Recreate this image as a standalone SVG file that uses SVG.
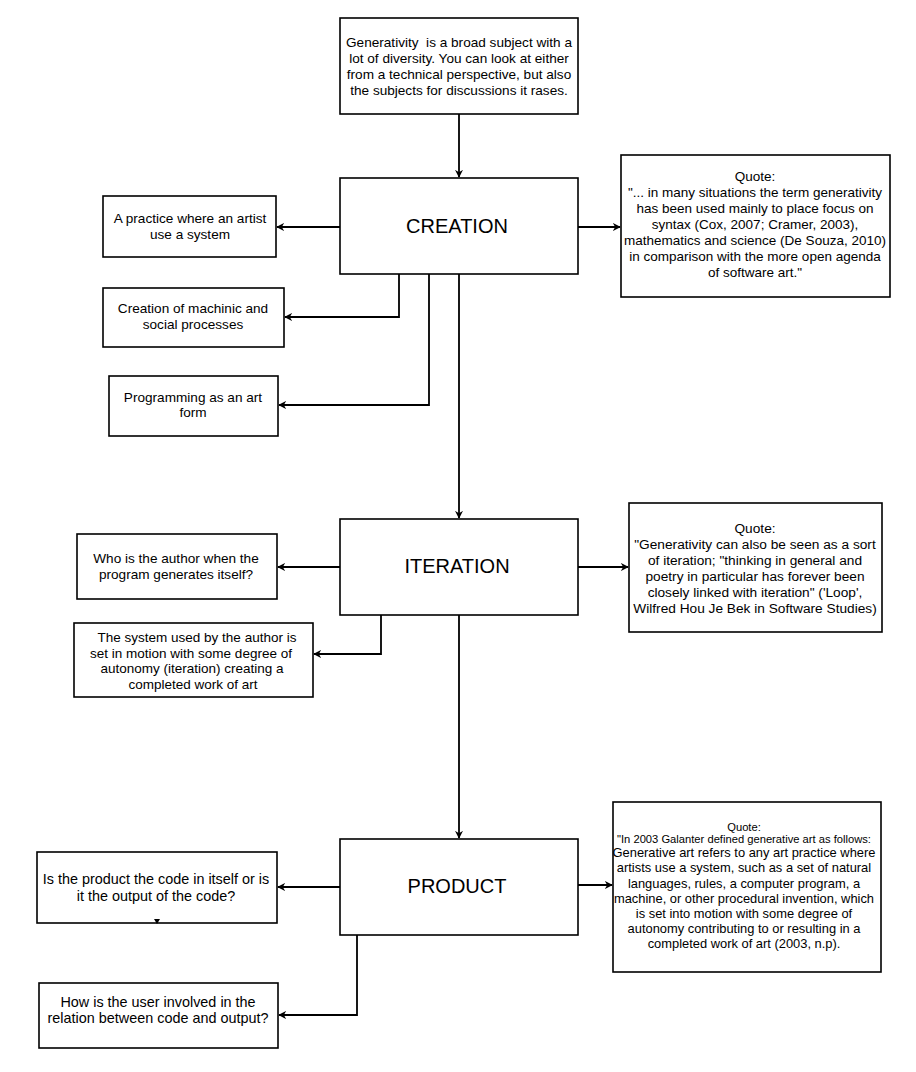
<svg xmlns="http://www.w3.org/2000/svg" width="916" height="1072" viewBox="0 0 916 1072">
  <defs>
    <marker id="arrow" viewBox="0 0 10 10" refX="9" refY="5" markerWidth="8" markerHeight="8" markerUnits="userSpaceOnUse" orient="auto">
      <path d="M0,0 L10,5 L0,10 L3,5 z" fill="#000"/>
    </marker>
    <style>
      .box { fill: #fff; stroke: #000; stroke-width: 1.6; }
      .edge { fill: none; stroke: #000; stroke-width: 1.8; marker-end: url(#arrow); }
      text { font-family: "Liberation Sans", Arial, Helvetica, sans-serif; fill: #000; text-anchor: middle; }
      .s { font-size: 11.2px; }
      .big { font-size: 20px; }
    </style>
  </defs>
  <rect width="916" height="1072" fill="#fff"/>

  <g id="connectors">
    <path class="edge" d="M459,114 L459,177"/>
    <path class="edge" d="M340,227 L277,227"/>
    <path class="edge" d="M578,227 L620,227"/>
    <path class="edge" d="M399,274 L399,317 L285,317"/>
    <path class="edge" d="M429,274 L429,405 L279,405"/>
    <path class="edge" d="M459,274 L459,518"/>
    <path class="edge" d="M340,567 L278,567"/>
    <path class="edge" d="M578,567 L628,567"/>
    <path class="edge" d="M381,615 L381,654 L314,654"/>
    <path class="edge" d="M459,615 L459,838"/>
    <path class="edge" d="M340,887 L278,887"/>
    <path class="edge" d="M578,885 L612,885"/>
    <path class="edge" d="M357,935 L357,1015 L279,1015"/>
  </g>

  <g id="intro" font-size="13.6px">
    <rect class="box" x="340" y="18" width="238" height="96"/>
    <text x="459" y="47">Generativity&#160; is a broad subject with a</text>
    <text x="459" y="63">lot of diversity. You can look at either</text>
    <text x="459" y="79">from a technical perspective, but also</text>
    <text x="459" y="95">the subjects for discussions it rases.</text>
  </g>

  <g id="creation">
    <rect class="box" x="340" y="178" width="238" height="96"/>
    <text class="big" x="457" y="233">CREATION</text>
  </g>

  <g id="practice" font-size="13.6px">
    <rect class="box" x="103" y="196" width="173" height="61"/>
    <text x="190" y="223">A practice where an artist</text>
    <text x="190" y="239">use a system</text>
  </g>

  <g id="machinic" font-size="13.6px">
    <rect class="box" x="103" y="288" width="181" height="59"/>
    <text x="193" y="313">Creation of machinic and</text>
    <text x="193" y="329">social processes</text>
  </g>

  <g id="programming" font-size="13.6px">
    <rect class="box" x="109" y="376" width="169" height="60"/>
    <text x="193" y="402">Programming as an art</text>
    <text x="193" y="417">form</text>
  </g>

  <g id="quote-creation" font-size="13.5px">
    <rect class="box" x="621" y="155" width="269" height="142"/>
    <text x="755" y="181">Quote:</text>
    <text x="755" y="197">"... in many situations the term generativity</text>
    <text x="755" y="213">has been used mainly to place focus on</text>
    <text x="755" y="229">syntax (Cox, 2007; Cramer, 2003),</text>
    <text x="755" y="245">mathematics and science (De Souza, 2010)</text>
    <text x="755" y="261">in comparison with the more open agenda</text>
    <text x="755" y="277">of software art."</text>
  </g>

  <g id="iteration">
    <rect class="box" x="340" y="519" width="238" height="96"/>
    <text class="big" x="457" y="573">ITERATION</text>
  </g>

  <g id="author" font-size="13.6px">
    <rect class="box" x="77" y="534" width="200" height="65"/>
    <text x="176" y="563">Who is the author when the</text>
    <text x="176" y="579">program generates itself?</text>
  </g>

  <g id="system" font-size="13.5px">
    <rect class="box" x="74" y="623" width="239" height="74"/>
    <text x="197" y="642">The system used by the author is</text>
    <text x="191" y="658">set in motion with some degree of</text>
    <text x="192" y="673">autonomy (iteration) creating a</text>
    <text x="193" y="689">completed work of art</text>
  </g>

  <g id="quote-iteration" font-size="13.7px">
    <rect class="box" x="629" y="503" width="253" height="129"/>
    <text x="755" y="533">Quote:</text>
    <text x="755" y="549">"Generativity can also be seen as a sort</text>
    <text x="755" y="565">of iteration; "thinking in general and</text>
    <text x="755" y="581">poetry in particular has forever been</text>
    <text x="755" y="597">closely linked with iteration" ('Loop',</text>
    <text x="755" y="613">Wilfred Hou Je Bek in Software Studies)</text>
  </g>

  <g id="product">
    <rect class="box" x="340" y="839" width="238" height="96"/>
    <text class="big" x="457" y="893">PRODUCT</text>
  </g>

  <g id="code-output" font-size="14.4px">
    <rect class="box" x="37" y="852" width="240" height="71"/>
    <text x="156" y="884">Is the product the code in itself or is</text>
    <text x="156" y="901">it the output of the code?</text>
    <path d="M154,919 L160,919 L157,924 z" fill="#000"/>
  </g>

  <g id="user" font-size="14.4px">
    <rect class="box" x="39" y="983" width="239" height="65"/>
    <text x="158" y="1007">How is the user involved in the</text>
    <text x="158" y="1023">relation between code and output?</text>
  </g>

  <g id="quote-product" font-size="12.9px">
    <rect class="box" x="613" y="802" width="268" height="170"/>
    <text class="s" x="744" y="831">Quote:</text>
    <text class="s" x="744" y="843">"In 2003 Galanter defined generative art as follows:</text>
    <text x="744" y="857">Generative art refers to any art practice where</text>
    <text x="744" y="872">artists use a system, such as a set of natural</text>
    <text x="744" y="888">languages, rules, a computer program, a</text>
    <text x="744" y="903">machine, or other procedural invention, which</text>
    <text x="744" y="918">is set into motion with some degree of</text>
    <text x="744" y="933">autonomy contributing to or resulting in a</text>
    <text x="744" y="948">completed work of art (2003, n.p).</text>
  </g>
</svg>
